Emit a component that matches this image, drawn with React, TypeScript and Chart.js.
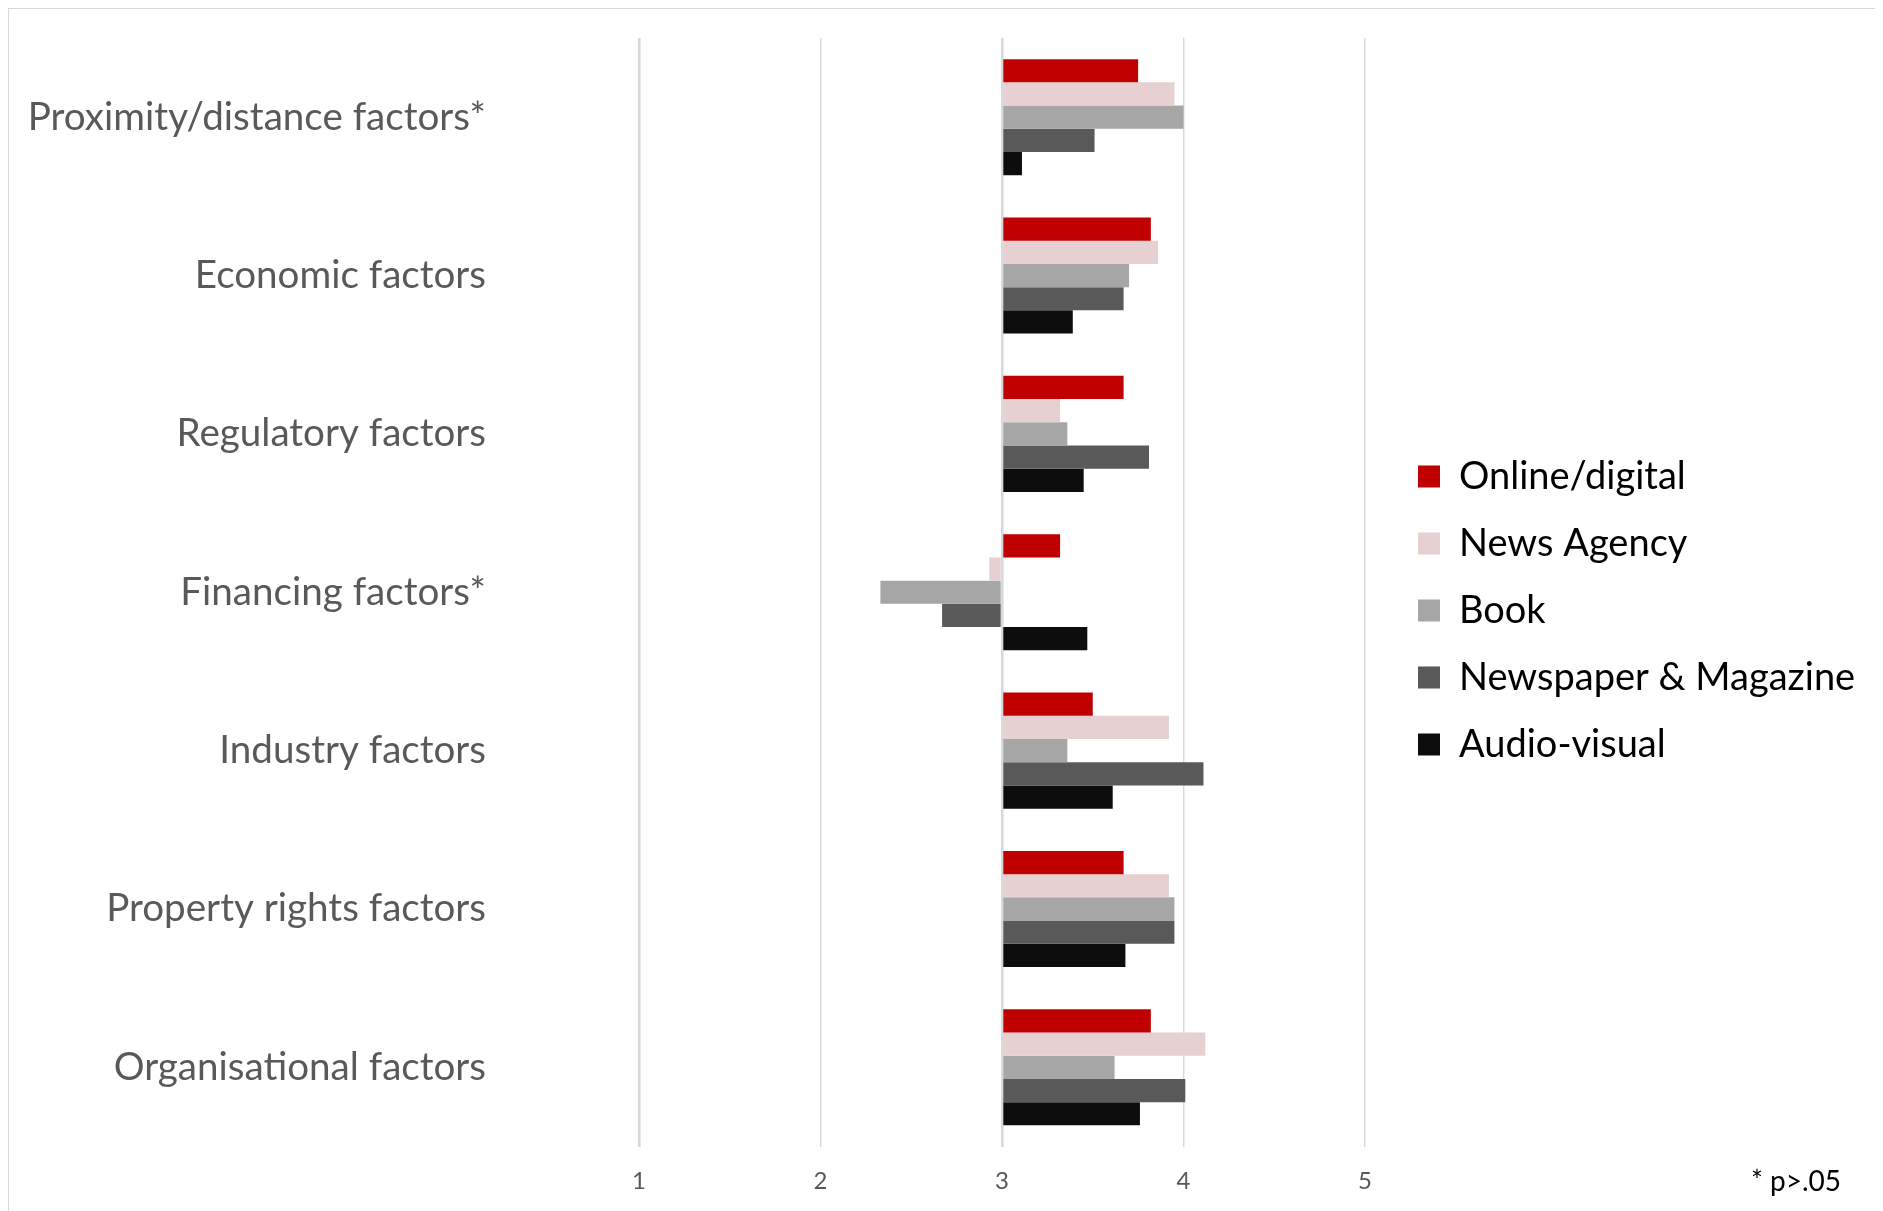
import React, { useEffect, useRef } from "react";
import { Chart, registerables } from "chart.js";

Chart.register(...registerables);

// Factor groups, listed top to bottom
const categories = [
  "Proximity/distance factors*",
  "Economic factors",
  "Regulatory factors",
  "Financing factors*",
  "Industry factors",
  "Property rights factors",
  "Organisational factors",
];

// Mean scores per media sector (1–5 scale, bars grow out of the midpoint 3)
const onlineDigital = [3.75, 3.82, 3.67, 3.32, 3.5, 3.67, 3.82];
const newsAgency = [3.95, 3.86, 3.32, 2.93, 3.92, 3.92, 4.12];
const book = [4.0, 3.7, 3.36, 2.33, 3.36, 3.95, 3.62];
const newspaperMagazine = [3.51, 3.67, 3.81, 2.67, 4.11, 3.95, 4.01];
const audioVisual = [3.11, 3.39, 3.45, 3.47, 3.61, 3.68, 3.76];

const seriesNames = ["Online/digital", "News Agency", "Book", "Newspaper & Magazine", "Audio-visual"];
const seriesColors = ["#C00000", "#E7D0D1", "#A6A6A6", "#595959", "#0D0D0D"];
const seriesValues = [onlineDigital, newsAgency, book, newspaperMagazine, audioVisual];

const xTicks = [1, 2, 3, 4, 5];
const midpoint = 3;
const footnote = "* p>.05";

const FONT = "Lato";
const CANVAS_W = 1872;
const CANVAS_H = 1202;
const LEGEND_FONT = 38;
const LEGEND_BOX = 22;
const LEGEND_PAD = 29;
const PLOT_LEFT = 630;
const PLOT_RIGHT = 1380;
const PLOT_BOTTOM = 1137.5;
const UNIT = 181.5;
const X_AXIS_H = 45.5;
const Y_FONT = 38.6;
const Y_LABEL_GAP = 153;

export default function App() {
  const canvasRef = useRef<HTMLCanvasElement | null>(null);

  useEffect(() => {
    document.documentElement.style.overflow = "hidden";
    document.body.style.overflow = "hidden";

    const canvas = canvasRef.current;
    if (!canvas) return;

    // widest legend entry decides how far the legend reaches
    const probe = document.createElement("canvas").getContext("2d")!;
    probe.font = `${LEGEND_FONT}px ${FONT}`;
    const widest = Math.max(...seriesNames.map((n) => probe.measureText(n).width));
    const legendWidth = LEGEND_PAD + LEGEND_BOX + LEGEND_FONT / 2 + widest + 2;
    const padRight = Math.max(0, CANVAS_W - PLOT_RIGHT - legendWidth);

    // half a label line plus this padding sets the top of the plot
    const yTickPadding = 29 - (Y_FONT * 1.2) / 2;

    const footnotePlugin = {
      id: "footnote",
      afterDraw(chart: any) {
        const { ctx } = chart;
        ctx.save();
        ctx.font = `28px ${FONT}`;
        ctx.fillStyle = "#000000";
        ctx.textAlign = "right";
        ctx.textBaseline = "middle";
        ctx.fillText(footnote, chart.width - 40, chart.scales.x.top + 35);
        ctx.restore();
      },
    };

    const chart = new Chart(canvas, {
      type: "bar",
      data: {
        labels: categories,
        datasets: seriesNames.map((name, i) => ({
          label: name,
          data: seriesValues[i],
          base: midpoint,
          backgroundColor: seriesColors[i],
          borderWidth: 0,
          barPercentage: 1,
          categoryPercentage: 0.733,
        })),
      },
      options: {
        indexAxis: "y",
        responsive: false,
        animation: false,
        devicePixelRatio: 1,
        layout: { padding: { top: 20, bottom: CANVAS_H - PLOT_BOTTOM - X_AXIS_H, left: 0, right: padRight } },
        scales: {
          x: {
            type: "linear",
            min: 1,
            max: 1 + (PLOT_RIGHT - PLOT_LEFT) / UNIT,
            afterBuildTicks: (scale: any) => {
              scale.ticks = xTicks.map((v) => ({ value: v }));
            },
            afterFit: (scale: any) => {
              scale.height = X_AXIS_H;
            },
            grid: {
              color: "#D9D9D9",
              lineWidth: (ctx: any) =>
                ctx.tick && (ctx.tick.value === 1 || ctx.tick.value === midpoint) ? 2.6 : 1.4,
              drawTicks: false,
            },
            border: { display: false },
            ticks: {
              color: "#595959",
              font: { family: FONT, size: 24 },
              padding: 20.5,
            },
          },
          y: {
            afterFit: (scale: any) => {
              scale.width = PLOT_LEFT;
            },
            // the long hidden tick length keeps the labels clear of the plot
            grid: { display: false, drawTicks: true, tickLength: Y_LABEL_GAP - yTickPadding },
            border: { display: false },
            ticks: {
              color: "#595959",
              font: { family: FONT, size: Y_FONT },
              padding: yTickPadding,
              autoSkip: false,
            },
          },
        },
        plugins: {
          legend: {
            position: "right",
            align: "center",
            maxWidth: legendWidth,
            labels: {
              boxWidth: LEGEND_BOX,
              boxHeight: LEGEND_BOX,
              padding: LEGEND_PAD,
              color: "#000000",
              font: { family: FONT, size: LEGEND_FONT },
            },
          },
          tooltip: { enabled: false },
        },
      },
      plugins: [footnotePlugin],
    } as any);

    return () => chart.destroy();
  }, []);

  return (
    <div
      style={{
        position: "relative",
        width: 1874,
        height: 1220,
        border: "1px solid #D9D9D9",
        boxSizing: "border-box",
        background: "#FFFFFF",
      }}
    >
      <canvas
        ref={canvasRef}
        width={CANVAS_W}
        height={CANVAS_H}
        style={{ display: "block", width: CANVAS_W, height: CANVAS_H }}
      />
    </div>
  );
}
